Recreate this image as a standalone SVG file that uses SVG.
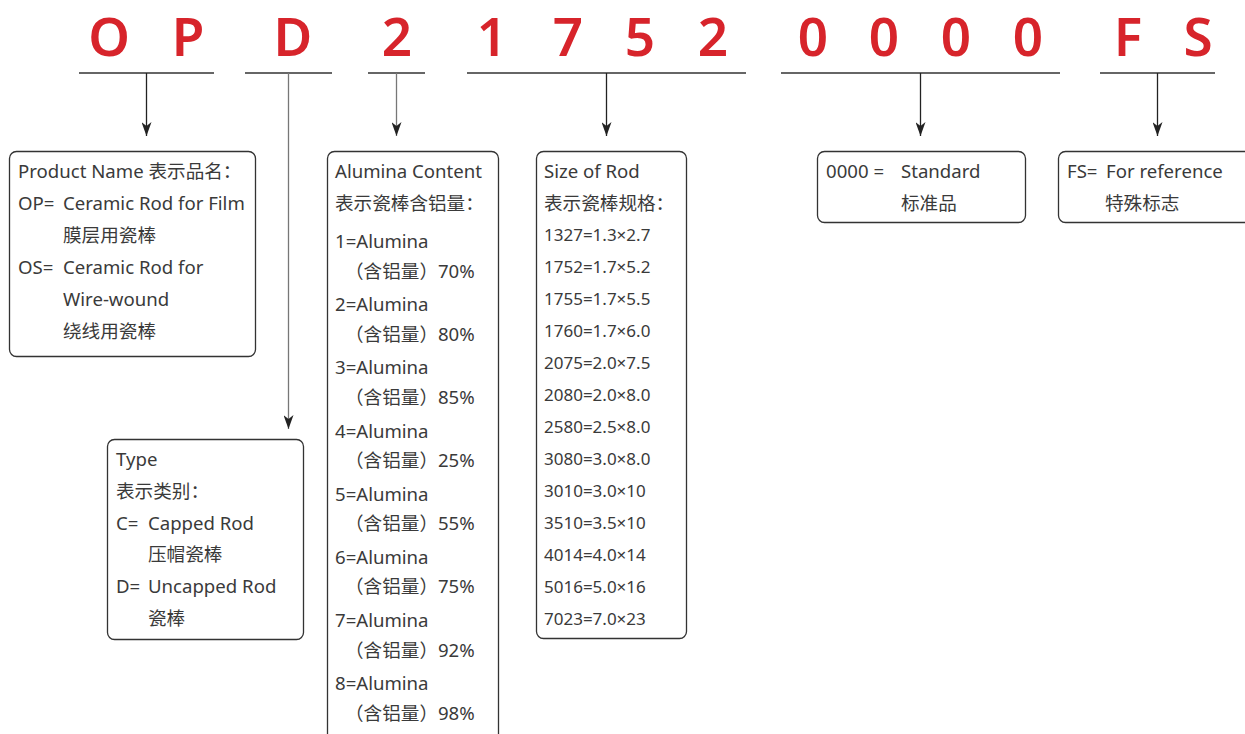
<svg xmlns="http://www.w3.org/2000/svg" width="1245" height="734" viewBox="0 0 1245 734">
<style>
.hd{font-family:"Noto Sans","Liberation Sans",sans-serif;font-size:53px;font-weight:600;fill:#d7242b;text-anchor:middle}
.t{font-family:"Noto Sans","Noto Sans CJK SC",sans-serif;font-size:18.6px;fill:#3a3a3a}
.s{font-family:"Noto Sans","Noto Sans CJK SC",sans-serif;font-size:17px;fill:#3a3a3a}
.box{fill:#fff;stroke:#333;stroke-width:1.3}
.ul{stroke:#333;stroke-width:1.3}
.ar{stroke:#222;stroke-width:1.3;fill:none}
.ag{stroke:#777;stroke-width:1.3;fill:none}
</style>
<defs>
<marker id="ah" viewBox="0 -5 14 10" refX="14" refY="0" markerWidth="14" markerHeight="10" markerUnits="userSpaceOnUse" orient="auto">
<path d="M0,-5 L14,0 L0,5 L4,0 Z" fill="#222"/>
</marker>
</defs>
<rect width="1245" height="734" fill="#fff"/>
<g id="header">
<text class="hd" x="109" y="56">O</text>
<text class="hd" x="188" y="56">P</text>
<text class="hd" x="293" y="56">D</text>
<text class="hd" x="397" y="56">2</text>
<text class="hd" x="492" y="56">1</text>
<text class="hd" x="568" y="56">7</text>
<text class="hd" x="640" y="56">5</text>
<text class="hd" x="713" y="56">2</text>
<text class="hd" x="813" y="56">0</text>
<text class="hd" x="884" y="56">0</text>
<text class="hd" x="956" y="56">0</text>
<text class="hd" x="1028" y="56">0</text>
<text class="hd" x="1128" y="56">F</text>
<text class="hd" x="1198" y="56">S</text>
</g>
<g id="connectors">
<line class="ul" x1="79" y1="73" x2="214" y2="73"/>
<line class="ul" x1="245" y1="73" x2="332" y2="73"/>
<line class="ul" x1="368" y1="73" x2="425" y2="73"/>
<line class="ul" x1="467" y1="73" x2="746" y2="73"/>
<line class="ul" x1="781" y1="73" x2="1060" y2="73"/>
<line class="ul" x1="1100" y1="73" x2="1215" y2="73"/>
<line class="ar" x1="146.5" y1="73" x2="146.5" y2="136" marker-end="url(#ah)"/>
<line class="ag" x1="288.5" y1="73" x2="288.5" y2="429" marker-end="url(#ah)"/>
<line class="ag" x1="396.5" y1="73" x2="396.5" y2="136" marker-end="url(#ah)"/>
<line class="ar" x1="606.5" y1="73" x2="606.5" y2="136" marker-end="url(#ah)"/>
<line class="ar" x1="920.5" y1="73" x2="920.5" y2="136" marker-end="url(#ah)"/>
<line class="ar" x1="1157.5" y1="73" x2="1157.5" y2="136" marker-end="url(#ah)"/>
</g>
<g id="product">
<rect class="box" x="9.5" y="151.5" width="246" height="205" rx="7"/>
<text class="t" x="18" y="178">Product Name 表示品名：</text>
<text class="t" x="18" y="210">OP=</text><text class="t" x="63" y="210">Ceramic Rod for Film</text>
<text class="t" x="63" y="242">膜层用瓷棒</text>
<text class="t" x="18" y="274">OS=</text><text class="t" x="63" y="274">Ceramic Rod for</text>
<text class="t" x="63" y="306">Wire-wound</text>
<text class="t" x="63" y="338">绕线用瓷棒</text>
</g>
<g id="type">
<rect class="box" x="107.5" y="439.5" width="196" height="200" rx="7"/>
<text class="t" x="116" y="466">Type</text>
<text class="t" x="116" y="498">表示类别：</text>
<text class="t" x="116" y="530">C=</text><text class="t" x="148" y="530">Capped Rod</text>
<text class="t" x="148" y="561">压帽瓷棒</text>
<text class="t" x="116" y="593">D=</text><text class="t" x="148" y="593">Uncapped Rod</text>
<text class="t" x="148" y="625">瓷棒</text>
</g>
<g id="alumina">
<rect class="box" x="327.5" y="151.5" width="171" height="595" rx="7"/>
<text class="t" x="335" y="178">Alumina Content</text>
<text class="t" x="335" y="210">表示瓷棒含铝量：</text>
<text class="t" x="335" y="248">1=Alumina</text>
<text class="t" x="345" y="278">（含铝量）70%</text>
<text class="t" x="335" y="311">2=Alumina</text>
<text class="t" x="345" y="341">（含铝量）80%</text>
<text class="t" x="335" y="374">3=Alumina</text>
<text class="t" x="345" y="404">（含铝量）85%</text>
<text class="t" x="335" y="438">4=Alumina</text>
<text class="t" x="345" y="467">（含铝量）25%</text>
<text class="t" x="335" y="501">5=Alumina</text>
<text class="t" x="345" y="530">（含铝量）55%</text>
<text class="t" x="335" y="564">6=Alumina</text>
<text class="t" x="345" y="593">（含铝量）75%</text>
<text class="t" x="335" y="627">7=Alumina</text>
<text class="t" x="345" y="657">（含铝量）92%</text>
<text class="t" x="335" y="690">8=Alumina</text>
<text class="t" x="345" y="720">（含铝量）98%</text>
</g>
<g id="size">
<rect class="box" x="536.5" y="151.5" width="150" height="487" rx="7"/>
<text class="t" x="544" y="178">Size of Rod</text>
<text class="t" x="544" y="210">表示瓷棒规格：</text>
<text class="s" x="544" y="241">1327=1.3×2.7</text>
<text class="s" x="544" y="273">1752=1.7×5.2</text>
<text class="s" x="544" y="305">1755=1.7×5.5</text>
<text class="s" x="544" y="337">1760=1.7×6.0</text>
<text class="s" x="544" y="369">2075=2.0×7.5</text>
<text class="s" x="544" y="401">2080=2.0×8.0</text>
<text class="s" x="544" y="433">2580=2.5×8.0</text>
<text class="s" x="544" y="465">3080=3.0×8.0</text>
<text class="s" x="544" y="497">3010=3.0×10</text>
<text class="s" x="544" y="529">3510=3.5×10</text>
<text class="s" x="544" y="561">4014=4.0×14</text>
<text class="s" x="544" y="593">5016=5.0×16</text>
<text class="s" x="544" y="625">7023=7.0×23</text>
</g>
<g id="standard">
<rect class="box" x="817.5" y="151.5" width="208" height="71" rx="7"/>
<text class="t" x="826" y="178">0000 =</text><text class="t" x="901" y="178">Standard</text>
<text class="t" x="901" y="210">标准品</text>
</g>
<g id="reference">
<rect class="box" x="1058.5" y="151.5" width="200" height="71" rx="7"/>
<text class="t" x="1067" y="178">FS=</text><text class="t" x="1106" y="178">For reference</text>
<text class="t" x="1105" y="210">特殊标志</text>
</g>
</svg>
